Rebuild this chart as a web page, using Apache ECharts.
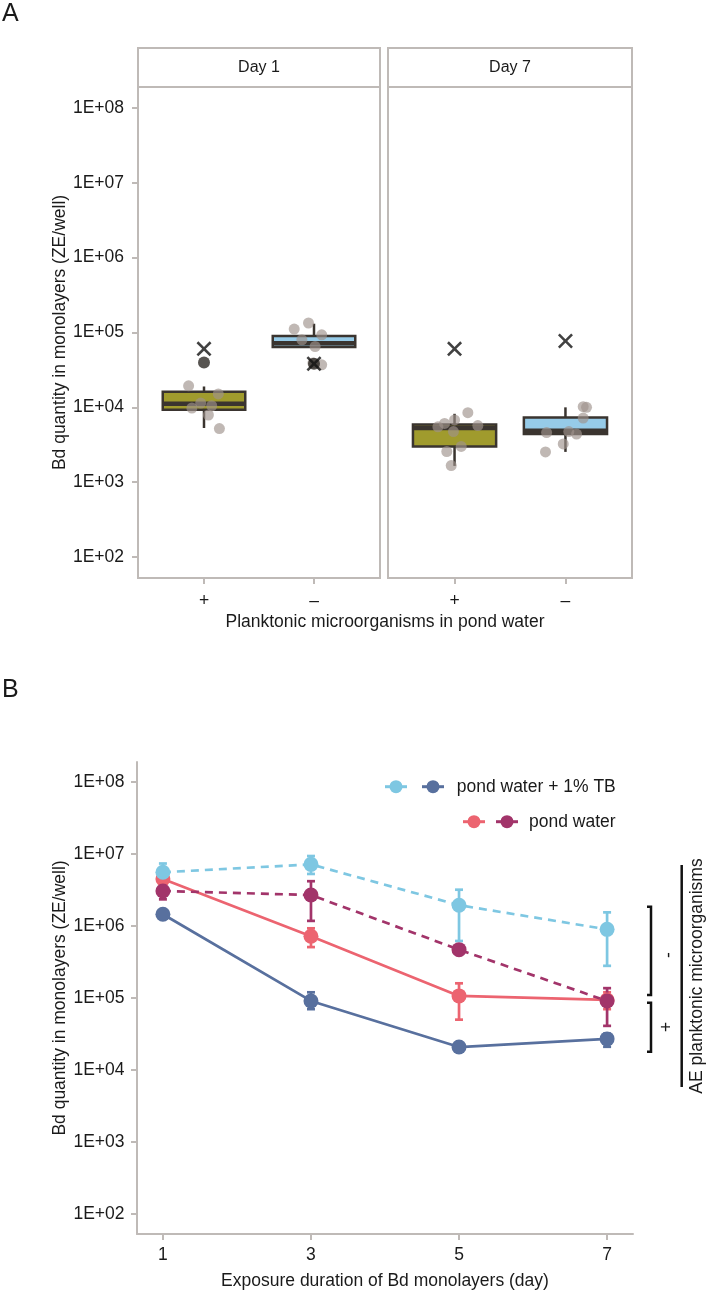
<!DOCTYPE html>
<html>
<head>
<meta charset="utf-8">
<title>Bd quantity in monolayers</title>
<script src="https://cdn.jsdelivr.net/npm/echarts@6/dist/echarts.min.js"></script>
<style>
  html, body { margin: 0; padding: 0; background: #fff; }
  #chart { width: 709px; height: 1292px; }
</style>
</head>
<body>
<div id="chart"></div>
<script>
// ---- panel A : boxplots per facet, [min, q1, median, q3, max] ----
var groupsA = ['+', '–'];
var day1Box = [[5.3e3, 9.3e3, 1.12e4, 1.62e4, 1.9e4], [6.4e4, 6.4e4, 7.2e4, 9.0e4, 1.31e5]];
var day7Box = [[1.65e3, 3.0e3, 5.3e3, 5.9e3, 8.2e3], [2.54e3, 4.4e3, 4.85e3, 7.3e3, 1.0e4]];
var day1Mean = [6.05e4, 3.82e4];
var day7Mean = [6.05e4, 7.7e4];
var day1Outlier = [3.97e4, 3.82e4];
// single wells, [jittered x, value]
var day1Wells = [
  [0.86, 1.94e4], [1.13, 1.51e4], [0.97, 1.14e4], [0.89, 9.8e3], [1.07, 1.05e4], [1.04, 7.9e3], [1.14, 5.2e3],
  [1.82, 1.11e5], [1.95, 1.34e5], [2.07, 9.3e4], [1.89, 8.0e4], [2.01, 6.5e4], [2.07, 3.7e4], [1.99, 3.9e4]
];
var day7Wells = [
  [1.12, 8.5e3], [1.00, 6.8e3], [0.91, 6.1e3], [0.85, 5.5e3], [1.21, 5.7e3], [0.99, 4.75e3], [1.06, 3.0e3], [0.93, 2.57e3], [0.97, 1.67e3],
  [2.16, 1.02e4], [2.19, 1.0e4], [2.16, 7.2e3], [1.83, 4.6e3], [2.03, 4.75e3], [2.10, 4.4e3], [1.98, 3.25e3], [1.82, 2.54e3]
];

// ---- panel B : mean per day, [low, high] error bars ----
var days = [1, 3, 5, 7];
var tbPlus = [1.46e6, 9.1e4, 2.08e4, 2.7e4];
var tbMinus = [5.6e6, 7.2e6, 1.95e6, 9.0e5];
var pwPlus = [4.5e6, 7.2e5, 1.07e5, 9.4e4];
var pwMinus = [3.07e6, 2.7e6, 4.7e5, 9.1e4];
var tbPlusErr = [[1.35e6, 1.58e6], [7.0e4, 1.2e5], [1.95e4, 2.2e4], [2.1e4, 3.2e4]];
var tbMinusErr = [[3.8e6, 7.4e6], [5.3e6, 9.4e6], [6.2e5, 3.2e6], [2.8e5, 1.55e6]];
var pwPlusErr = [[3.8e6, 5.3e6], [5.1e5, 9.3e5], [5.0e4, 1.6e5], [7.0e4, 1.2e5]];
var pwMinusErr = [[2.35e6, 4.0e6], [1.18e6, 4.2e6], null, [4.1e4, 1.37e5]];

var decades = [1e2, 1e3, 1e4, 1e5, 1e6, 1e7, 1e8];

var FONT = 'Liberation Sans, Arial, sans-serif';
var INK = '#1a1a1a';
var FRAME = '#bfbab7';
var DARK = '#3a342f';
var C_TB_PLUS = '#58709e';
var C_TB_MINUS = '#7ec7e2';
var C_PW_PLUS = '#ec6470';
var C_PW_MINUS = '#a2346a';
var CROSS = 'path://M0,1.2L1.2,0L5,3.8L8.8,0L10,1.2L6.2,5L10,8.8L8.8,10L5,6.2L1.2,10L0,8.8L3.8,5Z';

function expLabel(v) {
  var e = Math.round(Math.log10(v));
  return '1E+' + (e < 10 ? '0' : '') + e;
}

function yLog(gridIndex, showLabels, margin) {
  return {
    type: 'log',
    gridIndex: gridIndex,
    logBase: 10,
    min: Math.pow(10, 1.72),
    max: Math.pow(10, 8.28),
    axisLine: { show: gridIndex === 2, lineStyle: { color: FRAME, width: 2 } },
    axisTick: { show: showLabels, length: 6, customValues: decades, lineStyle: { color: FRAME, width: 2 } },
    axisLabel: {
      show: showLabels,
      customValues: decades,
      margin: margin,
      formatter: expLabel,
      color: INK,
      fontSize: 17.5,
      fontFamily: FONT
    },
    splitLine: { show: false }
  };
}

function xGroups(gridIndex) {
  return {
    type: 'value',
    gridIndex: gridIndex,
    min: 0.4,
    max: 2.6,
    axisLine: { show: false },
    axisTick: { length: 6, customValues: [1, 2], lineStyle: { color: FRAME, width: 2 } },
    axisLabel: {
      customValues: [1, 2],
      margin: 14,
      formatter: function (v) { return groupsA[Math.round(v) - 1]; },
      color: INK,
      fontSize: 17.5,
      fontFamily: FONT
    },
    splitLine: { show: false }
  };
}

function boxSeries(gridIndex, boxes) {
  var fills = ['#a09b2d', '#96cbe8'];
  return {
    type: 'custom',
    xAxisIndex: gridIndex,
    yAxisIndex: gridIndex,
    silent: true,
    data: boxes.map(function (b, i) { return [i + 1].concat(b); }),
    encode: { x: 0, y: [1, 2, 3, 4, 5] },
    renderItem: function (params, api) {
      var x = api.value(0);
      var lo = api.coord([x, api.value(1)]);
      var q1 = api.coord([x, api.value(2)]);
      var md = api.coord([x, api.value(3)]);
      var q3 = api.coord([x, api.value(4)]);
      var hi = api.coord([x, api.value(5)]);
      var left = api.coord([x - 0.375, api.value(3)])[0];
      var right = api.coord([x + 0.375, api.value(3)])[0];
      var st = { stroke: DARK, lineWidth: 2.5 };
      return {
        type: 'group',
        children: [
          { type: 'line', shape: { x1: lo[0], y1: lo[1], x2: q1[0], y2: q1[1] }, style: st },
          { type: 'line', shape: { x1: q3[0], y1: q3[1], x2: hi[0], y2: hi[1] }, style: st },
          {
            type: 'rect',
            shape: { x: left, y: q3[1], width: right - left, height: q1[1] - q3[1] },
            style: { fill: fills[params.dataIndex], stroke: DARK, lineWidth: 2.5 }
          },
          { type: 'line', shape: { x1: left, y1: md[1], x2: right, y2: md[1] }, style: { stroke: DARK, lineWidth: 4.5 } }
        ]
      };
    }
  };
}

function errSeries(errs, color) {
  var data = [];
  for (var i = 0; i < days.length; i++) {
    if (errs[i]) data.push([days[i], errs[i][0], errs[i][1]]);
  }
  return {
    type: 'custom',
    xAxisIndex: 2,
    yAxisIndex: 2,
    silent: true,
    data: data,
    encode: { x: 0, y: [1, 2] },
    renderItem: function (params, api) {
      var lo = api.coord([api.value(0), api.value(1)]);
      var hi = api.coord([api.value(0), api.value(2)]);
      var st = { stroke: color, lineWidth: 2.7 };
      return {
        type: 'group',
        children: [
          { type: 'line', shape: { x1: lo[0], y1: lo[1], x2: hi[0], y2: hi[1] }, style: st },
          { type: 'line', shape: { x1: lo[0] - 4, y1: lo[1], x2: lo[0] + 4, y2: lo[1] }, style: st },
          { type: 'line', shape: { x1: hi[0] - 4, y1: hi[1], x2: hi[0] + 4, y2: hi[1] }, style: st }
        ]
      };
    }
  };
}

function lineSeries(name, vals, color, dashed) {
  return {
    name: name,
    type: 'line',
    xAxisIndex: 2,
    yAxisIndex: 2,
    silent: true,
    data: days.map(function (d, i) { return [d, vals[i]]; }),
    symbol: 'circle',
    symbolSize: 15,
    showSymbol: true,
    itemStyle: { color: color },
    lineStyle: { color: color, width: 2.7, type: dashed ? [8, 6] : 'solid' }
  };
}

function text(x, y, str, size, rot, align) {
  return {
    type: 'text',
    x: x,
    y: y,
    rotation: rot || 0,
    style: {
      text: str,
      fill: INK,
      font: size + 'px ' + FONT,
      align: align || 'center',
      verticalAlign: 'middle'
    }
  };
}

function legendKey(x, y, color) {
  return [
    { type: 'line', shape: { x1: x - 11, y1: y, x2: x + 11, y2: y }, style: { stroke: color, lineWidth: 3 } },
    { type: 'circle', shape: { cx: x, cy: y, r: 6.5 }, style: { fill: color } }
  ];
}

function bracket(y1, y2) {
  return {
    type: 'polyline',
    shape: { points: [[647, y1], [651, y1], [651, y2], [647, y2]] },
    style: { stroke: '#111', lineWidth: 2.5, fill: null }
  };
}

var chart = echarts.init(document.getElementById('chart'));

var graphics = [
  text(2, 14, 'A', 25, 0, 'left'),
  text(2, 690, 'B', 25, 0, 'left'),
  { type: 'rect', shape: { x: 138, y: 48, width: 242, height: 39 }, style: { fill: '#fff', stroke: FRAME, lineWidth: 2 } },
  { type: 'rect', shape: { x: 388, y: 48, width: 244, height: 39 }, style: { fill: '#fff', stroke: FRAME, lineWidth: 2 } },
  text(259, 67.5, 'Day 1', 16),
  text(510, 67.5, 'Day 7', 16),
  text(60, 332.5, 'Bd quantity in monolayers (ZE/well)', 17.5, Math.PI / 2),
  text(385, 622, 'Planktonic microorganisms in pond water', 17.5),
  text(60, 998, 'Bd quantity in monolayers (ZE/well)', 17.5, Math.PI / 2),
  text(385, 1281, 'Exposure duration of Bd monolayers (day)', 17.5),
  text(456.7, 786.7, 'pond water + 1% TB', 17.5, 0, 'left'),
  text(529, 821.7, 'pond water', 17.5, 0, 'left'),
  bracket(906.7, 995),
  bracket(1002.7, 1051.7),
  text(669, 955, '-', 17.5, Math.PI / 2),
  text(667, 1027, '+', 17.5, Math.PI / 2),
  { type: 'line', shape: { x1: 681.7, y1: 865, x2: 681.7, y2: 1087 }, style: { stroke: '#111', lineWidth: 2.5 } },
  text(697, 976, 'AE planktonic microorganisms', 17.5, Math.PI / 2)
]
  .concat(legendKey(396, 786.7, C_TB_MINUS))
  .concat(legendKey(433, 786.7, C_TB_PLUS))
  .concat(legendKey(474, 821.7, C_PW_PLUS))
  .concat(legendKey(507, 821.7, C_PW_MINUS));

chart.setOption({
  animation: false,
  backgroundColor: '#fff',
  textStyle: { fontFamily: FONT },
  grid: [
    { left: 138, top: 87, width: 242, height: 491, show: true, borderColor: FRAME, borderWidth: 2, containLabel: false },
    { left: 388, top: 87, width: 244, height: 491, show: true, borderColor: FRAME, borderWidth: 2, containLabel: false },
    { left: 137, top: 762, width: 496, height: 472, containLabel: false }
  ],
  xAxis: [
    xGroups(0),
    xGroups(1),
    {
      type: 'value',
      gridIndex: 2,
      min: 0.65,
      max: 7.35,
      axisLine: { lineStyle: { color: FRAME, width: 2 } },
      axisTick: { length: 6, customValues: days, lineStyle: { color: FRAME, width: 2 } },
      axisLabel: { customValues: days, margin: 12, color: INK, fontSize: 17.5, fontFamily: FONT },
      splitLine: { show: false }
    }
  ],
  yAxis: [yLog(0, true, 14), yLog(1, false, 14), yLog(2, true, 12.5)],
  graphic: graphics,
  series: [
    boxSeries(0, day1Box),
    boxSeries(1, day7Box),
    {
      type: 'scatter', xAxisIndex: 0, yAxisIndex: 0, silent: true,
      data: day1Wells, symbolSize: 11,
      itemStyle: { color: '#9e928c', opacity: 0.65 }
    },
    {
      type: 'scatter', xAxisIndex: 1, yAxisIndex: 1, silent: true,
      data: day7Wells, symbolSize: 11,
      itemStyle: { color: '#9e928c', opacity: 0.65 }
    },
    {
      type: 'scatter', xAxisIndex: 0, yAxisIndex: 0, silent: true,
      data: day1Outlier.map(function (v, i) { return [i + 1, v]; }), symbolSize: 12,
      itemStyle: { color: '#2d2926' }
    },
    {
      type: 'scatter', xAxisIndex: 0, yAxisIndex: 0, silent: true,
      data: day1Mean.map(function (v, i) { return [i + 1, v]; }), symbol: CROSS, symbolSize: 15,
      itemStyle: { color: '#111' }
    },
    {
      type: 'scatter', xAxisIndex: 1, yAxisIndex: 1, silent: true,
      data: day7Mean.map(function (v, i) { return [i + 1, v]; }), symbol: CROSS, symbolSize: 15,
      itemStyle: { color: '#111' }
    },
    errSeries(tbPlusErr, C_TB_PLUS),
    lineSeries('pond water + 1% TB, AE+', tbPlus, C_TB_PLUS, false),
    errSeries(pwPlusErr, C_PW_PLUS),
    lineSeries('pond water, AE+', pwPlus, C_PW_PLUS, false),
    errSeries(tbMinusErr, C_TB_MINUS),
    lineSeries('pond water + 1% TB, AE-', tbMinus, C_TB_MINUS, true),
    errSeries(pwMinusErr, C_PW_MINUS),
    lineSeries('pond water, AE-', pwMinus, C_PW_MINUS, true)
  ]
});

window.addEventListener('resize', function () {
  chart.resize();
});
</script>
</body>
</html>
